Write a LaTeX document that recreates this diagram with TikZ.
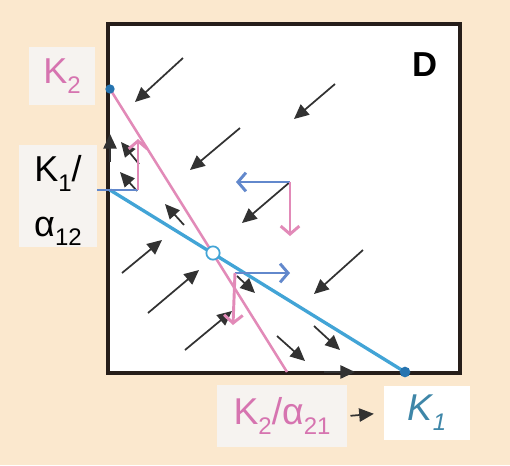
\documentclass[tikz,border=0pt]{standalone}
\usepackage{fontspec}
\setmainfont{Liberation Sans}
\usetikzlibrary{arrows.meta}
\definecolor{bgbeige}{RGB}{251,232,206}
\definecolor{isoblue}{RGB}{66,164,214}
\definecolor{vecblue}{RGB}{98,136,204}
\definecolor{isopink}{RGB}{226,138,184}
\definecolor{lblpink}{RGB}{214,116,176}
\definecolor{dotblue}{RGB}{38,116,176}
\definecolor{kteal}{RGB}{62,134,168}
\definecolor{lblbox}{RGB}{246,243,240}
\definecolor{flowgray}{RGB}{50,50,50}
\definecolor{frame}{RGB}{38,30,26}
\newcommand{\lowsub}[1]{\raisebox{-0.5ex}{\fontsize{18}{18}\selectfont #1}}

\tikzset{every picture/.style={line width=0.75pt}}

\begin{document}
\begin{tikzpicture}[x=0.75pt,y=0.75pt,yscale=-1,xscale=1,
  flow/.style={draw=flowgray,line width=1.3pt,-{Triangle[length=11pt,width=10pt]}},
  vecb/.style={draw=vecblue,line width=2.2pt,-{Straight Barb[length=6pt,width=14pt]}},
  vecp/.style={draw=isopink,line width=2.2pt,-{Straight Barb[length=6pt,width=14pt]}},
  lbl/.style={fill=lblbox,inner sep=0pt,font=\fontsize{27}{41}\selectfont,align=center}]
%set diagram to 510 x 465
\fill[bgbeige] (0,0) rectangle (510,465);

%Shape: Rectangle
\draw[frame,line width=2.8pt,fill=white] (108,24) rectangle (460,373);

%points on the axes
\coordinate (K2pt) at (110,89);
\coordinate (K1a12pt) at (110,190);
\coordinate (K2a21pt) at (287,372);
\coordinate (K1pt) at (405,372);

%Straight Lines: isoclines
\draw[isopink,line width=1.9pt] (K2pt) -- (K2a21pt);
\draw[isoblue,line width=2.5pt] (K1a12pt) -- (K1pt);

%Straight Lines: long arrows
\coordinate (f1a) at (183,58);  \coordinate (f1b) at (135,102);
\draw[flow] (f1a) -- (f1b);
\coordinate (f2a) at (240,128); \coordinate (f2b) at (190,170);
\draw[flow] (f2a) -- (f2b);
\coordinate (f3a) at (335,84);  \coordinate (f3b) at (294,119);
\draw[flow] (f3a) -- (f3b);
\coordinate (f4a) at (290,182); \coordinate (f4b) at (242,223);
\draw[flow] (f4a) -- (f4b);
\coordinate (f5a) at (363,250); \coordinate (f5b) at (314,294);
\draw[flow] (f5a) -- (f5b);
\coordinate (f6a) at (122,273); \coordinate (f6b) at (162,240);
\draw[flow] (f6a) -- (f6b);
\coordinate (f7a) at (148,313); \coordinate (f7b) at (199,270);
\draw[flow] (f7a) -- (f7b);
\coordinate (f8a) at (185,350); \coordinate (f8b) at (232,311);
\draw[flow] (f8a) -- (f8b);

%Straight Lines: short arrows
\coordinate (s1a) at (110,162); \coordinate (s1b) at (110,134);
\draw[flow] (s1a) -- (s1b);
\coordinate (s2a) at (139,164); \coordinate (s2b) at (121,142);
\draw[flow] (s2a) -- (s2b);
\coordinate (s3a) at (137,191); \coordinate (s3b) at (120,172);
\draw[flow] (s3a) -- (s3b);
\coordinate (s4a) at (184,225); \coordinate (s4b) at (165,204);
\draw[flow] (s4a) -- (s4b);
\coordinate (s5a) at (237,276); \coordinate (s5b) at (255,293);
\draw[flow] (s5a) -- (s5b);
\coordinate (s6a) at (277,336); \coordinate (s6b) at (305,361);
\draw[flow] (s6a) -- (s6b);
\coordinate (s7a) at (314,326); \coordinate (s7b) at (340,350);
\draw[flow] (s7a) -- (s7b);
\coordinate (s8a) at (324,372); \coordinate (s8b) at (355,372);
\draw[flow] (s8a) -- (s8b);

%Straight Lines: component vectors
\coordinate (v1) at (138,190);
\coordinate (v1b) at (85,190);  \coordinate (v1p) at (138,139);
\draw[vecb] (v1) -- (v1b);
\draw[vecp] (v1) -- (v1p);
\coordinate (v2) at (290,182);
\coordinate (v2b) at (236,182); \coordinate (v2p) at (290,236);
\draw[vecb] (v2) -- (v2b);
\draw[vecp] (v2) -- (v2p);
\coordinate (v3) at (235,273);
\coordinate (v3b) at (290,273); \coordinate (v3p) at (233,325);
\draw[vecb] (v3) -- (v3b);
\draw[vecp] (v3) -- (v3p);

%Shape: Circle
\node[circle,fill=dotblue,inner sep=0pt,minimum size=7pt] (K2dot) at (K2pt) {};
\node[circle,fill=dotblue,inner sep=0pt,minimum size=8pt] (K1dot) at (K1pt) {};
\node[circle,draw=isoblue,fill=white,line width=1.3pt,inner sep=0pt,minimum size=10pt] (eq) at (213,253) {};

% Text Node
\node[lbl,text=lblpink,minimum width=49pt,minimum height=44pt] (lblK2) at (62,76) {K\lowsub{2}};
% Text Node
\node[lbl,minimum width=59pt,minimum height=77pt,text depth=0pt] (lblK1a12) at (58,196) {K\lowsub{1}/\\α\lowsub{12}};
% Text Node
\node[font=\fontsize{26}{26}\selectfont\bfseries] (lblD) at (425,65) {D};
% Text Node
\node[lbl,text=lblpink,minimum width=98pt,minimum height=47pt,font=\fontsize{28}{41}\selectfont] (lblK2a21) at (282,416) {K\lowsub{2}/α\lowsub{21}};
% Text Node
\node[lbl,fill=white,text=kteal,minimum width=65pt,minimum height=41pt,font=\fontsize{28}{41}\selectfont\itshape] (lblK1) at (427,413) {K\lowsub{1}};

%Straight Lines: arrow between labels
\draw[flow,shorten <=2pt,shorten >=7pt] (lblK2a21.east) -- (lblK1.west);

\end{tikzpicture}
\end{document}
